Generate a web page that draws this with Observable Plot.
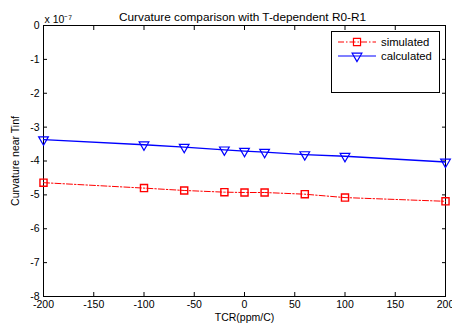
<!DOCTYPE html>
<html><head><meta charset="utf-8">
<script src="https://cdn.jsdelivr.net/npm/d3@7"></script>
<script src="https://cdn.jsdelivr.net/npm/@observablehq/plot@0.6"></script>
<style>
body{margin:0;background:#fff;font-family:"Liberation Sans",Arial,sans-serif;}
#wrap{position:relative;width:452px;height:325px;}
#legend{position:absolute;left:331px;top:31px;width:107px;height:60px;border:1px solid #000;border-right-width:1.5px;border-bottom-width:1.5px;background:#fff;font-size:11.3px;}
#legend .row{position:absolute;left:0;height:14px;display:flex;align-items:center;}
#legend svg{display:block}
</style>
</head><body>
<div id="wrap"></div>
<script>
// values in units of 1e-7
const tcr = [-200, -100, -60, -20, 0, 20, 60, 100, 200];
const simulated = [-4.64, -4.80, -4.87, -4.92, -4.93, -4.93, -4.98, -5.08, -5.19];
const calculated = [-3.37, -3.52, -3.59, -3.67, -3.71, -3.74, -3.81, -3.86, -4.03];
const xTicks = [-200, -150, -100, -50, 0, 50, 100, 150, 200];
const yTicks = [-8, -7, -6, -5, -4, -3, -2, -1, 0];
const seriesNames = ["simulated", "calculated"];

const sim = tcr.map((x, i) => ({x, y: simulated[i]}));
const calc = tcr.map((x, i) => ({x, y: calculated[i]}));

const font = "Liberation Sans, Arial, sans-serif";
const fmt = d => String(d);
const none = () => "";
const chart = Plot.plot({
  width: 452, height: 325,
  marginLeft: 43, marginRight: 7, marginTop: 25, marginBottom: 29,
  style: {fontFamily: font, fontSize: "10.5px", background: "#fff", color: "#000"},
  x: {domain: [-200, 200]},
  y: {domain: [-8, 0]},
  marks: [
    Plot.frame({stroke: "#000"}),
    Plot.axisX(xTicks, {anchor: "bottom", tickSize: -4, tickPadding: 8, tickFormat: fmt, label: "TCR(ppm/C)", labelAnchor: "center", labelOffset: 24, labelArrow: "none", fontSize: 10.5}),
    Plot.axisX(xTicks, {anchor: "top", tickSize: -4, tickFormat: none, label: null}),
    Plot.axisY(yTicks, {anchor: "left", tickSize: -4, tickPadding: 8, tickFormat: fmt, label: "Curvature near Tinf", labelAnchor: "center", labelOffset: 32, labelArrow: "none", fontSize: 10.5}),
    Plot.axisY(yTicks, {anchor: "right", tickSize: -4, tickFormat: none, label: null}),
    Plot.line(sim, {x: "x", y: "y", stroke: "#ff0000", strokeWidth: 1, strokeDasharray: "6,2,1.5,2"}),
    Plot.dot(sim, {x: "x", y: "y", symbol: "square", r: 4, stroke: "#ff0000", strokeWidth: 1.4, fill: "none"}),
    Plot.line(calc, {x: "x", y: "y", stroke: "#0000ff", strokeWidth: 1.3}),
    Plot.dot(calc, {x: "x", y: "y", symbol: "triangle", rotate: 180, r: 3.6, stroke: "#0000ff", strokeWidth: 1.2, fill: "none"}),
    Plot.text(["Curvature comparison with T-dependent R0-R1"], {frameAnchor: "top", dy: -13, fontSize: 11.8, dx: -2}),
    Plot.text(["x 10⁻⁷"], {frameAnchor: "top-left", dy: -10, dx: 1, textAnchor: "start", fontSize: 10.5})
  ]
});
document.getElementById("wrap").appendChild(chart);

// legend
const leg = document.createElement("div");
leg.id = "legend";
const rows = [
  {name: seriesNames[0], color: "#ff0000", dash: "6,2,1.5,2", sym: d3.symbolSquare, size: 50, rot: 0},
  {name: seriesNames[1], color: "#0000ff", dash: null, sym: d3.symbolTriangle, size: 41, rot: 180}
];
rows.forEach((r, i) => {
  const row = document.createElement("div");
  row.className = "row";
  row.style.top = (3 + i * 14) + "px";
  const s = d3.create("svg").attr("width", 46).attr("height", 14);
  s.append("line").attr("x1", 6).attr("x2", 44).attr("y1", 7).attr("y2", 7)
    .attr("stroke", r.color).attr("stroke-width", 1.2).attr("stroke-dasharray", r.dash);
  s.append("path").attr("d", d3.symbol(r.sym, r.size)())
    .attr("transform", `translate(25,7) rotate(${r.rot})`)
    .attr("fill", "none").attr("stroke", r.color).attr("stroke-width", 1.2);
  row.appendChild(s.node());
  const t = document.createElement("span");
  t.textContent = r.name;
  t.style.marginLeft = "3px";
  row.appendChild(t);
  leg.appendChild(row);
});
document.getElementById("wrap").appendChild(leg);
</script>
</body></html>
